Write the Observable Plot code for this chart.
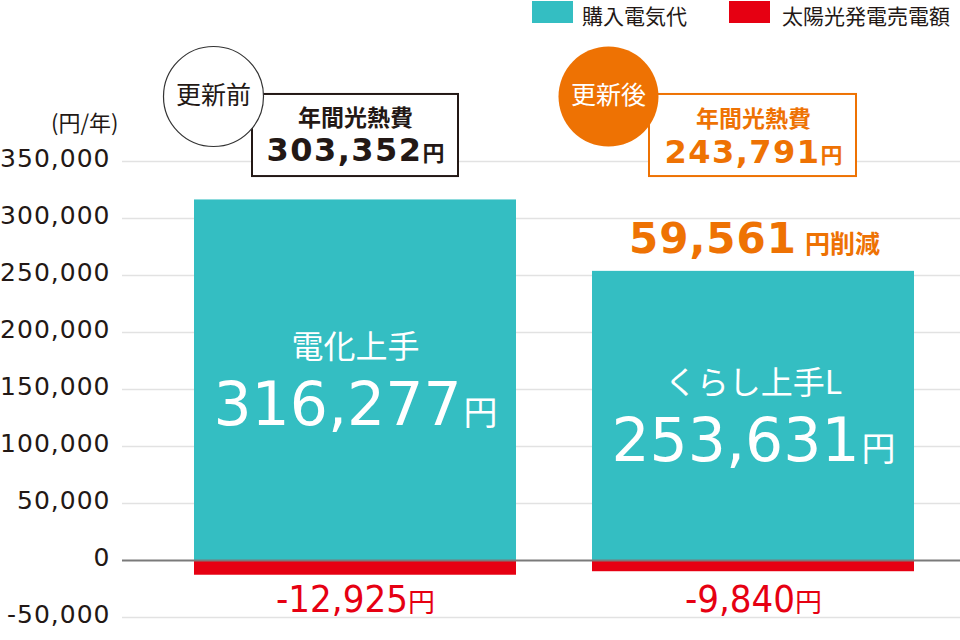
<!DOCTYPE html>
<html><head><meta charset="utf-8">
<script src="https://cdn.jsdelivr.net/npm/d3@7"></script>
<script src="https://cdn.jsdelivr.net/npm/@observablehq/plot@0.6"></script>
<style>
body{margin:0;background:#fff;}
#wrap{position:relative;width:960px;height:640px;font-family:"Noto Sans CJK JP",sans-serif;color:#231815;}
.lg{position:absolute;top:1px;height:22px;}
.lt{position:absolute;top:0px;font-size:21px;line-height:normal;white-space:nowrap;}
#wrap svg{position:absolute;left:0;top:0;}
g[aria-label="y-axis tick label"] text{letter-spacing:1px;}
</style></head><body><div id="wrap"></div>
<script>
// ---- data ----
const categories = ["更新前", "更新後"];
const planNames = ["電化上手", "くらし上手L"];
const purchaseCost = [316277, 253631];   // 購入電気代
const sellIncome = [-12925, -9840];      // 太陽光発電売電額
const annualTotal = [303352, 243791];    // 年間光熱費
const reduction = 59561;
const seriesNames = ["購入電気代", "太陽光発電売電額"];
const yTicks = [-50000, 0, 50000, 100000, 150000, 200000, 250000, 300000, 350000];
const yUnit = "(円/年)";
const totalLabel = "年間光熱費";

const TEAL = "#34bec2", RED = "#e60012", ORANGE = "#ee7203", DARK = "#231815";
const fmt = v => d3.format(",")(v).replace("\u2212", "-");
const rows = categories.map((c, i) => ({cat: c, purchase: purchaseCost[i], sell: sellIncome[i], plan: planNames[i], total: annualTotal[i]}));
const NUM = "'DejaVu Sans', sans-serif";
const CJK = "'Noto Sans CJK JP', sans-serif";

// annotation y values (box and badge positions, in y-scale units)
const boxTop = 408800, boxBottom = 336800, badgeY = 407000;

const plot = Plot.plot({
  width: 960, height: 640,
  marginTop: 161, marginBottom: 23, marginLeft: 122, marginRight: 0,
  x: {domain: categories, paddingInner: 0.191, paddingOuter: 0.148, align: 0.61, axis: null},
  y: {domain: [-50000, 350000], axis: null},
  style: {fontFamily: NUM, color: DARK, overflow: "visible", background: "transparent"},
  marks: [
    Plot.gridY(yTicks.filter(t => t !== 0), {stroke: "#e2e2e2", strokeOpacity: 1, strokeWidth: 1.5}),
    Plot.axisY(yTicks, {tickSize: 0, tickPadding: 12, tickFormat: fmt, fontSize: 25, dy: -3, label: null, fill: DARK}),
    Plot.text([yUnit], {frameAnchor: "top-left", text: d => d, textAnchor: "end", dx: -4, dy: -46, fontSize: 22, fontFamily: CJK, fill: DARK}),
    Plot.barY(rows, {x: "cat", y: "purchase", fill: TEAL}),
    Plot.barY(rows, {x: "cat", y: "sell", fill: RED}),
    Plot.ruleY([0], {stroke: "#7a7a7a", strokeWidth: 2}),
    // bar labels
    Plot.text(rows, {x: "cat", y: d => d.purchase / 2, dy: -32, text: "plan", fill: "white", fontSize: 32, fontFamily: CJK}),
    Plot.text(rows, {x: "cat", y: d => d.purchase / 2, dy: 26, text: d => fmt(d.purchase) + "円", fill: "white", fontSize: 60}),
    Plot.text(rows, {x: "cat", frameAnchor: "bottom", lineAnchor: "middle", dy: -18, text: d => fmt(d.sell) + "円", fill: RED, fontSize: 38, fontFamily: "'DejaVu Sans Condensed', 'DejaVu Sans', sans-serif"}),
    Plot.text([rows[1]], {x: "cat", y: "purchase", dy: -32, dx: 1, text: () => fmt(reduction) + "円削減", fill: ORANGE, fontSize: 42, fontWeight: "bold"}),
    // annual total boxes
    Plot.barY([rows[0]], {x: "cat", y1: boxBottom, y2: boxTop, insetLeft: 58, insetRight: 58, fill: "white", stroke: DARK, strokeWidth: 2}),
    Plot.barY([rows[1]], {x: "cat", y1: boxBottom, y2: boxTop, insetLeft: 57, insetRight: 58, fill: "white", stroke: ORANGE, strokeWidth: 2}),
    Plot.text([rows[0]], {x: "cat", y: boxTop, dy: 24, text: () => totalLabel, fill: DARK, fontSize: 23, fontWeight: "bold", fontFamily: CJK}),
    Plot.text([rows[1]], {x: "cat", y: boxTop, dy: 25, text: () => totalLabel, fill: ORANGE, fontSize: 23, fontWeight: "bold", fontFamily: CJK}),
    Plot.text([rows[0]], {x: "cat", y: boxTop, dy: 56, text: d => fmt(d.total) + "円", fill: DARK, fontSize: 32, fontWeight: "bold"}),
    Plot.text([rows[1]], {x: "cat", y: boxTop, dy: 58, text: d => fmt(d.total) + "円", fill: ORANGE, fontSize: 32, fontWeight: "bold"}),
    // badges
    Plot.dot([rows[0]], {x: "cat", y: badgeY, dx: -142, r: 50, fill: "white", stroke: "#333", strokeWidth: 1.2}),
    Plot.dot([rows[1]], {x: "cat", y: badgeY, dx: -145, r: 50, fill: ORANGE, stroke: "none"}),
    Plot.text([rows[0]], {x: "cat", y: badgeY, dx: -142, dy: -1, text: "cat", fill: DARK, fontSize: 25, fontFamily: CJK}),
    Plot.text([rows[1]], {x: "cat", y: badgeY, dx: -145, dy: -1, text: "cat", fill: "white", fontSize: 25, fontFamily: CJK})
  ]
});

// split the trailing "円…" unit into a smaller tspan; size chosen by the parent's font size
const unitStyle = {"60": [34, 0, 2], "38": [27, 0, 0], "42": [25, 1, 8], "32": [22, 1.5, 0]};
d3.select(plot).selectAll('g[aria-label="text"] text').each(function () {
  const s = this.textContent;
  const m = s.match(/^([-0-9,]+)(円.*)$/);
  if (!m) return;
  const fs = this.parentNode.getAttribute("font-size") || this.getAttribute("font-size");
  const st = unitStyle[String(parseFloat(fs))];
  if (!st) return;
  const t = d3.select(this);
  t.text(null);
  t.append("tspan").style("letter-spacing", st[1] + "px").text(m[1]);
  t.append("tspan").attr("font-size", st[0]).attr("dx", st[2]).attr("font-family", CJK).text(m[2]);
});

const wrap = document.getElementById("wrap");
wrap.appendChild(plot);

// legend
const lg = [
  {name: seriesNames[0], color: TEAL, sx: 532, tx: 582},
  {name: seriesNames[1], color: RED, sx: 729, tx: 782}
];
lg.forEach(d => {
  const sw = document.createElement("div");
  sw.className = "lg"; sw.style.left = d.sx + "px"; sw.style.width = "41px"; sw.style.background = d.color;
  wrap.appendChild(sw);
  const tx = document.createElement("div");
  tx.className = "lt"; tx.style.left = d.tx + "px"; tx.textContent = d.name;
  wrap.appendChild(tx);
});
</script></body></html>
